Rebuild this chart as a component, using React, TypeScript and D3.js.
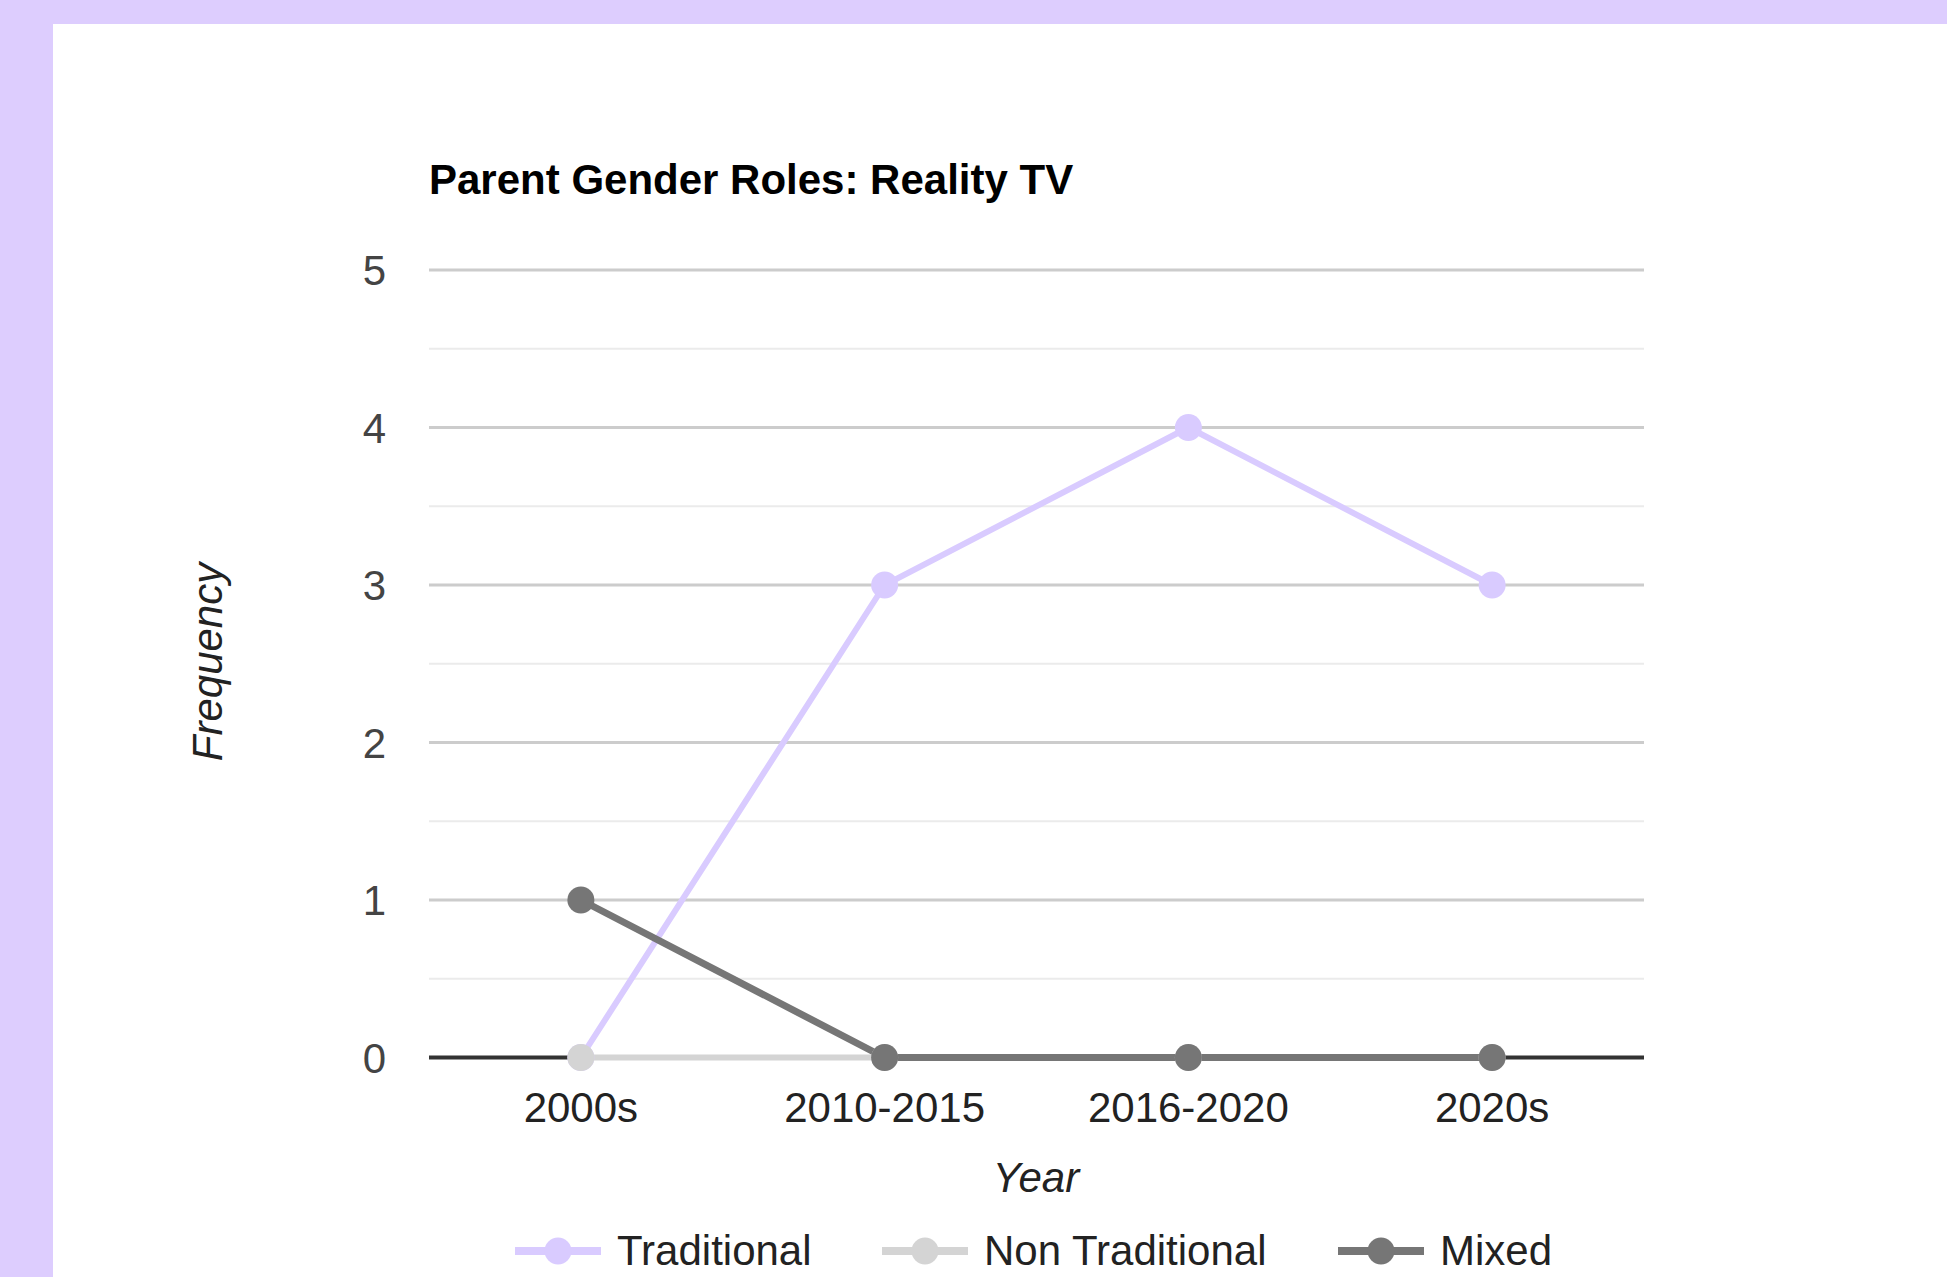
import React from "react";
import { scaleLinear, scalePoint, line, range } from "d3";

const categories = ["2000s", "2010-2015", "2016-2020", "2020s"];
const seriesNames = ["Traditional", "Non Traditional", "Mixed"];
const traditional = [0, 3, 4, 3];
const nonTraditional = [0, 0, 0, 0];
const mixed = [1, 0, 0, 0];
const yTicks = [0, 1, 2, 3, 4, 5];

const W = 1947;
const H = 1277;
const font = "'Liberation Sans', Arial, sans-serif";

const colors = ["#d9cbff", "#d4d4d4", "#767676"];
const widths = [6, 6, 7];

const App = () => {
  const x = scalePoint<string>()
    .domain(categories)
    .range([429, 1644])
    .padding(0.5);
  const y = scaleLinear().domain([0, 5]).range([1057.5, 270]);

  const series = [traditional, nonTraditional, mixed];
  const lineGen = line<number>()
    .x((_, i) => x(categories[i]) as number)
    .y((d) => y(d));

  const minor = range(0.5, 5, 1);
  const legendX = [515, 882, 1338];

  return (
    <svg
      width={W}
      height={H}
      style={{ position: "absolute", left: 0, top: 0, display: "block" }}
      fontFamily={font}
    >
      <rect width={W} height={H} fill="#ddcdfe" />
      <rect x={53} y={24} width={W - 53} height={H - 24} fill="#ffffff" />

      <text x={429} y={194} fontSize={42} fontWeight="bold" fill="#000">
        Parent Gender Roles: Reality TV
      </text>

      {minor.map((t) => (
        <line
          key={"m" + t}
          x1={429}
          x2={1644}
          y1={y(t)}
          y2={y(t)}
          stroke="#ebebeb"
          strokeWidth={2}
        />
      ))}
      {yTicks.map((t) => (
        <g key={t}>
          {t !== 0 && (
            <line
              x1={429}
              x2={1644}
              y1={y(t)}
              y2={y(t)}
              stroke="#cccccc"
              strokeWidth={3}
            />
          )}
          <text
            x={386}
            y={y(t)}
            dy="0.36em"
            textAnchor="end"
            fontSize={42}
            fill="#444"
          >
            {t}
          </text>
        </g>
      ))}
      <line
        x1={429}
        x2={1644}
        y1={y(0)}
        y2={y(0)}
        stroke="#333333"
        strokeWidth={4}
      />

      {categories.map((c) => (
        <text
          key={c}
          x={x(c)}
          y={1122}
          textAnchor="middle"
          fontSize={42}
          fill="#222"
        >
          {c}
        </text>
      ))}

      <text
        x={1036}
        y={1192}
        textAnchor="middle"
        fontSize={42}
        fontStyle="italic"
        fill="#222"
      >
        Year
      </text>
      <text
        transform="translate(222,662) rotate(-90)"
        textAnchor="middle"
        fontSize={42}
        fontStyle="italic"
        fill="#222"
      >
        Frequency
      </text>

      {series.map((s, k) => (
        <path
          key={"l" + k}
          d={lineGen(s) || ""}
          fill="none"
          stroke={colors[k]}
          strokeWidth={widths[k]}
        />
      ))}
      {series.map((s, k) =>
        s.map((v, i) => (
          <circle
            key={"p" + k + i}
            cx={x(categories[i])}
            cy={y(v)}
            r={13.5}
            fill={colors[k]}
          />
        ))
      )}

      {seriesNames.map((name, k) => (
        <g key={name}>
          <line
            x1={legendX[k]}
            x2={legendX[k] + 86}
            y1={1251}
            y2={1251}
            stroke={colors[k]}
            strokeWidth={8}
          />
          <circle cx={legendX[k] + 43} cy={1251} r={13.5} fill={colors[k]} />
          <text x={legendX[k] + 102} y={1265} fontSize={42} fill="#222">
            {name}
          </text>
        </g>
      ))}
    </svg>
  );
};

export default App;
